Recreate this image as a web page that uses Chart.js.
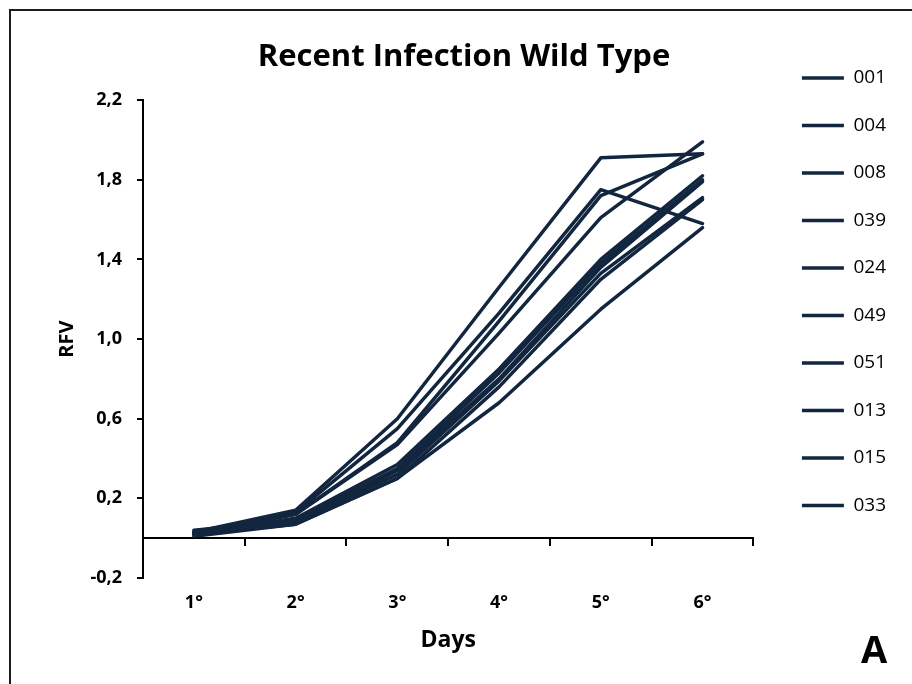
<!DOCTYPE html>
<html>
<head>
<meta charset="utf-8">
<script src="https://cdn.jsdelivr.net/npm/chart.js@4.4.0/dist/chart.umd.min.js"></script>
<style>
  body { margin: 0; background: #fff; }
  .wrap { position: relative; width: 912px; height: 684px; overflow: hidden; }
  .frame { position: absolute; left: 9px; top: 9px; width: 1000px; height: 1000px; border: 2px solid #1c1c1c; }
  .letter { position: absolute; left: 861px; top: 622px; font: bold 38px "Open Sans", sans-serif; color: #000; }
</style>
</head>
<body>
<div class="wrap">
  <canvas id="chart"></canvas>
  <div class="frame"></div>
  <div class="letter">A</div>
</div>
<script>
var days = ["1°", "2°", "3°", "4°", "5°", "6°"];
var samples = ["001", "004", "008", "039", "024", "049", "051", "013", "015", "033"];

// RFV per day
var s001 = [0.03, 0.14, 0.60, 1.26, 1.91, 1.93];
var s004 = [0.03, 0.13, 0.55, 1.13, 1.75, 1.58];
var s008 = [0.02, 0.12, 0.48, 1.09, 1.72, 1.93];
var s039 = [0.03, 0.12, 0.47, 1.03, 1.61, 1.99];
var s024 = [0.02, 0.10, 0.37, 0.85, 1.40, 1.82];
var s049 = [0.04, 0.09, 0.35, 0.83, 1.38, 1.80];
var s051 = [0.02, 0.08, 0.34, 0.80, 1.36, 1.79];
var s013 = [0.03, 0.08, 0.32, 0.79, 1.33, 1.71];
var s015 = [0.01, 0.07, 0.30, 0.76, 1.30, 1.70];
var s033 = [0.02, 0.07, 0.30, 0.68, 1.15, 1.56];
var values = [s001, s004, s008, s039, s024, s049, s051, s013, s015, s033];

var yTicks = [-0.2, 0.2, 0.6, 1.0, 1.4, 1.8, 2.2];

var font = '"Open Sans", sans-serif';
var color = "#12263f";

var datasets = samples.map(function (name, i) {
  return {
    label: name,
    data: values[i],
    borderColor: color,
    backgroundColor: color,
    borderWidth: 3.5,
    pointRadius: 0,
    tension: 0,
    borderCapStyle: "round",
    borderJoinStyle: "round",
    xAxisID: "x",
    yAxisID: "y",
  };
});

new Chart("chart", {
  type: "line",
  data: { labels: days, datasets: datasets },
  options: {
    responsive: true,
    maintainAspectRatio: false,
    animation: false,
    layout: { padding: { left: 32, right: 16, top: 40, bottom: 0 } },
    plugins: {
      title: {
        display: true,
        text: "Recent Infection Wild Type",
        color: "#000",
        font: { family: font, size: 31, weight: "bold", lineHeight: 1.1 },
        padding: { top: 0, bottom: 26 },
      },
      legend: {
        position: "right",
        align: "start",
        labels: {
          usePointStyle: true,
          pointStyle: "line",
          pointStyleWidth: 42,
          color: "#000",
          font: { family: font, size: 19 },
          padding: 28.5,
        },
      },
      tooltip: { enabled: false },
    },
    scales: {
      x: {
        type: "category",
        offset: true,
        grid: { display: false, drawTicks: false },
        border: { display: false },
        ticks: { color: "#000", font: { family: font, size: 18, weight: "bold" }, padding: 14 },
        title: {
          display: true,
          text: "Days",
          color: "#000",
          font: { family: font, size: 23, weight: "bold" },
          padding: { top: 0, bottom: 30 },
        },
        afterFit: function (s) { s.height = 106; },
      },
      zero: {
        axis: "x",
        type: "category",
        position: { y: 0 },
        offset: true,
        grid: { display: true, drawOnChartArea: false, drawTicks: true, tickLength: 7, color: "#000", lineWidth: 2, offset: true },
        border: { display: true, color: "#000", width: 2 },
        ticks: { display: false },
      },
      y: {
        min: yTicks[0],
        max: yTicks[yTicks.length - 1],
        ticks: {
          stepSize: 0.4,
          color: "#000",
          padding: 15,
          font: { family: font, size: 18, weight: "bold" },
          callback: function (v) { return v.toFixed(1).replace(".", ","); },
        },
        grid: { drawOnChartArea: false, tickLength: 6, color: "#000", lineWidth: 2 },
        border: { color: "#000", width: 2 },
        title: {
          display: true,
          text: "RFV",
          color: "#000",
          font: { family: font, size: 20, weight: "bold" },
          padding: { top: 23, bottom: 0 },
        },
        afterFit: function (s) { s.width = 111; },
      },
      gap: {
        axis: "y",
        type: "linear",
        position: "right",
        grid: { display: false },
        border: { display: false },
        ticks: { display: false },
        afterFit: function (s) { s.width = 20; },
      },
    },
  },
});
</script>
</body>
</html>
